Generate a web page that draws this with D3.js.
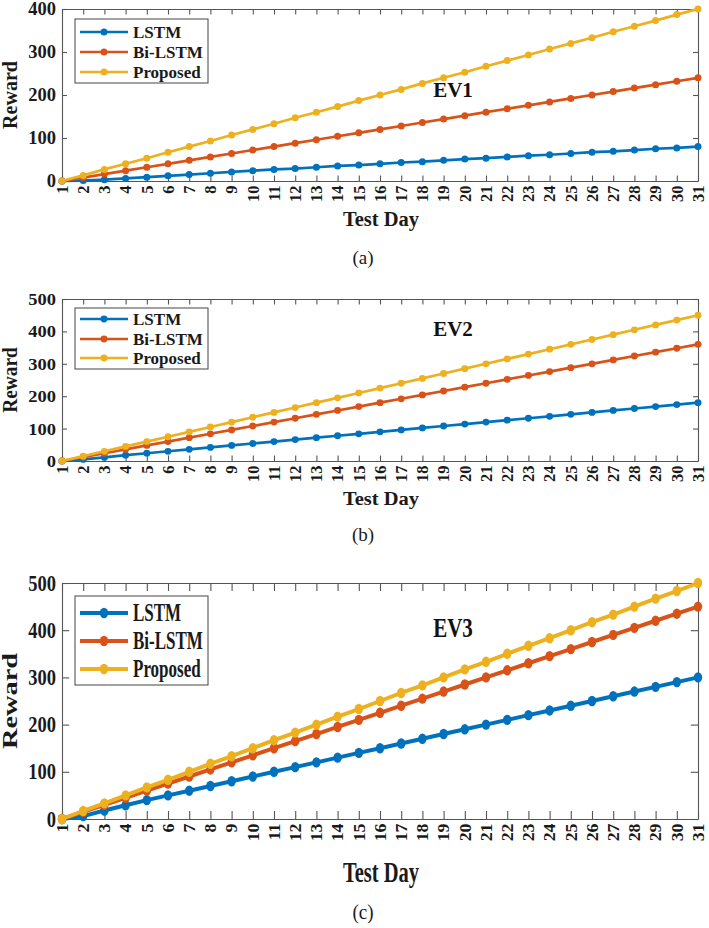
<!DOCTYPE html>
<html><head><meta charset="utf-8">
<script src="https://cdn.jsdelivr.net/npm/d3@7"></script>
<style>
html,body{margin:0;padding:0;background:#fff;}
svg{display:block;}
</style></head>
<body>
<svg id="chart" width="709" height="928"></svg>
<script>
// ---------- DATA ----------
const days = [1,2,3,4,5,6,7,8,9,10,11,12,13,14,15,16,17,18,19,20,21,22,23,24,25,26,27,28,29,30,31];
const dayLabels = ["1","2","3","4","5","6","7","8","9","10","11","12","13","14","15","16","17","18","19","20","21","22","23","24","25","26","27","28","29","30","31"];
const seriesNames = ["LSTM","Bi-LSTM","Proposed"];
const panelTitles = ["EV1","EV2","EV3"];
const captions = ["(a)","(b)","(c)"];
const xLabel = "Test Day";
const yLabel = "Reward";
const yTicksEV1 = [0,100,200,300,400];
const yTicksEV2 = [0,100,200,300,400,500];
const yTicksEV3 = [0,100,200,300,400,500];

const ev1LSTM     = [0,1,3,6,9,12,15,18,21,24,27,29,32,35,37,40,43,45,48,51,53,56,59,61,64,67,69,72,75,77,80];
const ev1BiLSTM   = [0,8,16,24,32,40,48,56,64,72,80,88,96,104,112,120,128,136,144,152,160,168,176,184,192,200,208,216,224,232,240];
const ev1Proposed = [0,13,27,40,53,67,80,93,107,120,133,147,160,173,187,200,213,227,240,253,267,280,293,307,320,333,347,360,373,387,400];

const ev2LSTM     = [0,5,11,18,24,30,36,42,48,54,60,66,72,78,84,90,96,102,108,114,120,126,132,138,144,150,156,162,168,174,180];
const ev2BiLSTM   = [0,12,24,36,48,60,72,84,96,108,120,132,144,156,168,180,192,204,216,228,240,252,264,276,288,300,312,324,336,348,360];
const ev2Proposed = [0,15,30,45,60,75,90,105,120,135,150,165,180,195,210,225,240,255,270,285,300,315,330,345,360,375,390,405,420,435,450];

const ev3LSTM     = [0,6,18,29,40,50,60,70,80,90,100,110,120,130,140,150,160,170,180,190,200,210,220,230,240,250,260,270,280,290,300];
const ev3BiLSTM   = [0,15,30,45,60,75,90,105,120,135,150,165,180,195,210,225,240,255,270,285,300,315,330,345,360,375,390,405,420,435,450];
const ev3Proposed = [0,17,33,50,67,83,100,117,133,150,167,183,200,217,233,250,267,283,300,317,333,350,367,383,400,417,433,450,467,483,500];

const colors = ["#0072BD","#D95319","#EDB120"];

// ---------- LAYOUT ----------
const panels = [
  {series:[ev1LSTM,ev1BiLSTM,ev1Proposed], yTicks:yTicksEV1, yMax:400, top:9, bottom:181,
   lw:2.7, rx:3.5, ry:3.5, tick:5.5, sH:1, sYT:1, sXT:1,
   legend:{y0:19, y1:83, rows:[32,52,72]}, titleY:97, testY:226, capY:264, sT:1, sTitle:1},
  {series:[ev2LSTM,ev2BiLSTM,ev2Proposed], yTicks:yTicksEV2, yMax:500, top:299, bottom:461,
   lw:2.7, rx:3.5, ry:3.4, tick:5.5, sH:0.95, sYT:0.95, sXT:1,
   legend:{y0:308, y1:369, rows:[319,339,358]}, titleY:336, testY:505, capY:541, sT:0.97, sTitle:1},
  {series:[ev3LSTM,ev3BiLSTM,ev3Proposed], yTicks:yTicksEV3, yMax:500, top:583, bottom:819,
   lw:4, rx:4.2, ry:5.2, tick:8, sH:1.42, sYT:1.2, sXT:1.08,
   legend:{y0:596, y1:685, rows:[613,641,669]}, titleY:637, testY:882, capY:919, sT:1.42, sTitle:1.3}
];
const left = 62, right = 698;
const axisColor = "#555";
const textColor = "#1a1a1a";
const FONT = "'Liberation Serif','Times New Roman',Times,serif";

const svg = d3.select("#chart");

function label(g, tx, ty, str, o) {
  const t = g.append("text")
    .attr("transform", `translate(${tx},${ty}) scale(1,${o.sy||1})${o.rot?` rotate(${o.rot})`:""}`)
    .attr("text-anchor", o.anchor || "start")
    .attr("dy", o.dy || "0")
    .style("font-family", FONT)
    .style("font-size", o.size + "px")
    .style("font-weight", o.bold ? "bold" : "normal")
    .style("fill", o.color || textColor)
    .text(str);
  return t;
}

panels.forEach((p, pi) => {
  const g = svg.append("g");
  const x = d3.scaleLinear().domain([1,31]).range([left,right]);
  const y = d3.scaleLinear().domain([0,p.yMax]).range([p.bottom,p.top]);

  const styleAxis = sel => {
    sel.select(".domain").attr("stroke",axisColor).attr("stroke-width",1.1);
    sel.selectAll(".tick line").attr("stroke",axisColor).attr("stroke-width",1.1);
    sel.selectAll(".tick text").remove();
  };
  // ticks inside, box on
  styleAxis(g.append("g").attr("transform",`translate(0,${p.bottom})`)
    .call(d3.axisBottom(x).tickValues(days).tickSizeInner(-p.tick).tickSizeOuter(0)));
  styleAxis(g.append("g").attr("transform",`translate(0,${p.top})`)
    .call(d3.axisTop(x).tickValues(days).tickSizeInner(-p.tick).tickSizeOuter(0)));
  styleAxis(g.append("g").attr("transform",`translate(${left},0)`)
    .call(d3.axisLeft(y).tickValues(p.yTicks).tickSizeInner(-p.tick*0.9).tickSizeOuter(0)));
  styleAxis(g.append("g").attr("transform",`translate(${right},0)`)
    .call(d3.axisRight(y).tickValues(p.yTicks).tickSizeInner(-p.tick*0.9).tickSizeOuter(0)));

  // x tick labels, rotated
  days.forEach((d,i) => {
    label(g, x(d), p.bottom + 4.5, dayLabels[i], {size:16.5, bold:true, anchor:"end", dy:"0.35em", rot:-90, sy:p.sXT});
  });
  // y tick labels
  p.yTicks.forEach(v => {
    label(g, left - 6, y(v), String(v), {size:18.5, bold:true, anchor:"end", dy:"0.34em", sy:p.sYT});
  });

  // lines + markers
  const line = d3.line().x((d,i)=>x(days[i])).y(d=>y(d));
  p.series.forEach((s,si) => {
    g.append("path").datum(s).attr("d",line)
      .attr("fill","none").attr("stroke",colors[si]).attr("stroke-width",p.lw)
      .attr("stroke-linejoin","round");
    g.selectAll(null).data(s).enter().append("ellipse")
      .attr("cx",(d,i)=>x(days[i])).attr("cy",d=>y(d))
      .attr("rx",p.rx).attr("ry",p.ry).attr("fill",colors[si]);
  });

  // legend
  const L = p.legend;
  g.append("rect").attr("x",75).attr("y",L.y0).attr("width",133).attr("height",L.y1-L.y0)
    .attr("fill","#fff").attr("stroke",axisColor).attr("stroke-width",1.1);
  seriesNames.forEach((nm,si) => {
    const r0 = L.rows[si];
    g.append("line").attr("x1",80).attr("x2",128).attr("y1",r0).attr("y2",r0)
      .attr("stroke",colors[si]).attr("stroke-width",p.lw);
    g.append("ellipse").attr("cx",104).attr("cy",r0).attr("rx",p.rx).attr("ry",p.ry).attr("fill",colors[si]);
    label(g, 133, r0, nm, {size:17, bold:true, dy:"0.35em", sy:p.sH});
  });

  // panel title
  label(g, 453, p.titleY, panelTitles[pi], {size:21, bold:true, anchor:"middle", sy:p.sTitle, color:"#111"});
  // axis titles
  label(g, 381, p.testY, xLabel, {size:20.5, bold:true, anchor:"middle", sy:p.sT});
  label(g, 17, (p.top+p.bottom)/2, yLabel, {size:20, bold:true, anchor:"middle", rot:-90, sy:p.sT});
  // caption
  label(g, 363, p.capY, captions[pi], {size:19, anchor:"middle", sy:(pi===2?1.15:1)});
});
</script>
</body></html>
